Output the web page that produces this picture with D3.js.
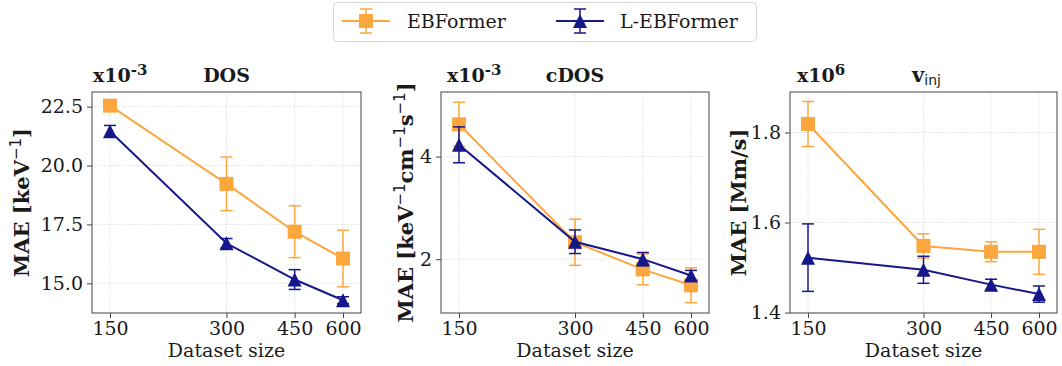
<!DOCTYPE html>
<html><head><meta charset="utf-8">
<script src="https://cdn.jsdelivr.net/npm/d3@7"></script>
<style>
body{margin:0;background:#fff;}
svg{display:block;}
text{font-family:"DejaVu Serif",serif;fill:#1a1a1a;}
</style></head>
<body><svg id="c" width="1062" height="366"></svg>
<script>
const sizes = [150, 300, 450, 600];
const seriesNames = ["EBFormer", "L-EBFormer"];
// DOS (x1e-3)
const dosEB = [22.54, 19.22, 17.19, 16.05];
const dosEBErr = [0.10, 1.14, 1.10, 1.20];
const dosL = [21.45, 16.70, 15.16, 14.28];
const dosLErr = [0.25, 0.20, 0.42, 0.15];
// cDOS (x1e-3)
const cdosEB = [4.63, 2.33, 1.80, 1.49];
const cdosEBErr = [0.43, 0.45, 0.30, 0.34];
const cdosL = [4.23, 2.34, 2.00, 1.68];
const cdosLErr = [0.35, 0.23, 0.13, 0.10];
// v_inj (x1e6)
const vEB = [1.819, 1.548, 1.535, 1.535];
const vEBErr = [0.050, 0.027, 0.022, 0.050];
const vL = [1.522, 1.495, 1.462, 1.441];
const vLErr = [0.075, 0.030, 0.012, 0.018];
const dosTicks = [15.0, 17.5, 20.0, 22.5];
const cdosTicks = [2, 4];
const vTicks = [1.4, 1.6, 1.8];

const colEB = "#FCA63E", colL = "#17178C";
const svg = d3.select("#c");

const panels = [
  {left:92, right:361, top:92, bottom:313, ydom:[13.74, 23.12], ticks:dosTicks, fmt:d3.format(".1f"),
   eb:dosEB, ebErr:dosEBErr, l:dosL, lErr:dosLErr, scaleX:93, title:"DOS", ylabelX:29,
   ylabel:[["MAE [keV",0],["−1",1],["]",0]]},
  {left:441, right:709, top:92, bottom:313, ydom:[0.95, 5.26], ticks:cdosTicks, fmt:d3.format("d"),
   eb:cdosEB, ebErr:cdosEBErr, l:cdosL, lErr:cdosLErr, scaleX:447, title:"cDOS", ylabelX:413,
   ylabel:[["MAE [keV",0],["−1",1],["cm",0],["−1",1],["s",0],["−1",1],["]",0]]},
  {left:790, right:1057, top:92, bottom:313, ydom:[1.399, 1.89], ticks:vTicks, fmt:d3.format(".1f"),
   eb:vEB, ebErr:vEBErr, l:vL, lErr:vLErr, scaleX:797, title:null, exp:"6", ylabelX:746,
   ylabel:[["MAE [Mm/s]",0]]}
];

const tri = s => `M0,${-s}L${s},${s}L${-s},${s}Z`;

panels.forEach(p => {
  const x = d3.scaleLog().domain([150, 600]).range([p.left + 18, p.right - 18]);
  const y = d3.scaleLinear().domain(p.ydom).range([p.bottom, p.top]);
  const g = svg.append("g");
  // grid
  g.selectAll(".gx").data(sizes).join("line")
    .attr("x1", d => x(d)).attr("x2", d => x(d)).attr("y1", p.top).attr("y2", p.bottom)
    .attr("stroke", "#d8d8d8").attr("stroke-width", 0.8).attr("stroke-dasharray", "1.5,1.5");
  g.selectAll(".gy").data(p.ticks).join("line")
    .attr("y1", d => y(d)).attr("y2", d => y(d)).attr("x1", p.left).attr("x2", p.right)
    .attr("stroke", "#d8d8d8").attr("stroke-width", 0.8).attr("stroke-dasharray", "1.5,1.5");
  // axes
  const xa = g.append("g").attr("transform", `translate(0,${p.bottom})`)
    .call(d3.axisBottom(x).tickValues(sizes).tickFormat(d3.format("d")).tickSize(5).tickPadding(4));
  const ya = g.append("g").attr("transform", `translate(${p.left},0)`)
    .call(d3.axisLeft(y).tickValues(p.ticks).tickFormat(p.fmt).tickSize(5).tickPadding(4));
  [xa, ya].forEach(a => {
    a.select(".domain").remove();
    a.selectAll("line").attr("stroke", "#444");
    a.selectAll("text").attr("font-size", 19).attr("fill", "#1a1a1a").attr("font-family", "DejaVu Serif");
  });
  // frame
  g.append("rect").attr("x", p.left).attr("y", p.top).attr("width", p.right - p.left).attr("height", p.bottom - p.top)
    .attr("fill", "none").attr("stroke", "#444").attr("stroke-width", 1);

  const series = [
    {v: p.eb, e: p.ebErr, c: colEB, m: "sq"},
    {v: p.l, e: p.lErr, c: colL, m: "tri"}
  ];
  series.forEach(s => {
    const pts = sizes.map((d, i) => ({x: d, v: s.v[i], e: s.e[i]}));
    g.append("path").datum(pts).attr("fill", "none").attr("stroke", s.c).attr("stroke-width", 2)
      .attr("d", d3.line().x(d => x(d.x)).y(d => y(d.v)));
    const eg = g.append("g").attr("stroke", s.c).attr("stroke-width", 1.5);
    eg.selectAll(".ev").data(pts).join("line")
      .attr("x1", d => x(d.x)).attr("x2", d => x(d.x)).attr("y1", d => y(d.v - d.e)).attr("y2", d => y(d.v + d.e));
    eg.selectAll(".ct").data(pts).join("line")
      .attr("x1", d => x(d.x) - 6).attr("x2", d => x(d.x) + 6).attr("y1", d => y(d.v + d.e)).attr("y2", d => y(d.v + d.e));
    eg.selectAll(".cb").data(pts).join("line")
      .attr("x1", d => x(d.x) - 6).attr("x2", d => x(d.x) + 6).attr("y1", d => y(d.v - d.e)).attr("y2", d => y(d.v - d.e));
    g.selectAll(null).data(pts).join("path")
      .attr("transform", d => `translate(${x(d.x)},${y(d.v)})`)
      .attr("d", s.m === "sq" ? "M-7,-7H7V7H-7Z" : tri(7))
      .attr("fill", s.c);
  });

  // x label
  g.append("text").attr("x", (p.left + p.right) / 2).attr("y", 357).attr("text-anchor", "middle")
    .attr("font-size", 19).text("Dataset size");
  // scale label
  const st = g.append("text").attr("x", p.scaleX).attr("y", 82).attr("font-size", 19).attr("font-weight", "bold");
  st.append("tspan").text("x10");
  st.append("tspan").attr("dy", -7).attr("font-size", 15).text(p.exp || "-3");
  // title
  if (p.title) {
    g.append("text").attr("x", (p.left + p.right) / 2).attr("y", 82).attr("text-anchor", "middle")
      .attr("font-size", 19).attr("font-weight", "bold").text(p.title);
  } else {
    const t = g.append("text").attr("x", (p.left + p.right) / 2 + 3).attr("y", 82).attr("text-anchor", "middle");
    t.append("tspan").attr("font-size", 21).attr("font-weight", "bold").text("v");
    t.append("tspan").attr("dy", 3).attr("font-size", 14).attr("font-family", "DejaVu Sans").text("inj");
  }
  // y label
  const yl = g.append("text").attr("transform", `translate(${p.ylabelX},${(p.top + p.bottom) / 2}) rotate(-90)`)
    .attr("text-anchor", "middle").attr("font-size", 21).attr("font-weight", "bold");
  let prevSup = 0;
  p.ylabel.forEach(([t, sup]) => {
    const ts = yl.append("tspan").text(t);
    const dy = (sup ? -8 : 0) - (prevSup ? -8 : 0);
    if (dy) ts.attr("dy", dy);
    if (sup) ts.attr("font-size", 15).attr("font-weight", "normal").attr("font-family", "DejaVu Sans");
    prevSup = sup;
  });
});

// legend
const lg = svg.append("g");
lg.append("rect").attr("x", 333.5).attr("y", 2.5).attr("width", 423).attr("height", 39).attr("rx", 4)
  .attr("fill", "#fff").attr("stroke", "#d6d6d6").attr("stroke-width", 1);
const legItems = [
  {name: seriesNames[0], c: colEB, m: "sq", x0: 342, tx: 407},
  {name: seriesNames[1], c: colL, m: "tri", x0: 556, tx: 620}
];
legItems.forEach(it => {
  const cy = 21, cx = it.x0 + 24;
  lg.append("line").attr("x1", it.x0).attr("x2", it.x0 + 48).attr("y1", cy).attr("y2", cy).attr("stroke", it.c).attr("stroke-width", 2);
  lg.append("line").attr("x1", cx).attr("x2", cx).attr("y1", cy - 12).attr("y2", cy + 12).attr("stroke", it.c).attr("stroke-width", 1.5);
  lg.append("line").attr("x1", cx - 6).attr("x2", cx + 6).attr("y1", cy - 12).attr("y2", cy - 12).attr("stroke", it.c).attr("stroke-width", 1.5);
  lg.append("line").attr("x1", cx - 6).attr("x2", cx + 6).attr("y1", cy + 12).attr("y2", cy + 12).attr("stroke", it.c).attr("stroke-width", 1.5);
  lg.append("path").attr("transform", `translate(${cx},${cy})`).attr("d", it.m === "sq" ? "M-7,-7H7V7H-7Z" : tri(7)).attr("fill", it.c);
  lg.append("text").attr("x", it.tx).attr("y", cy + 7).attr("font-size", 19).text(it.name);
});
</script></body></html>
